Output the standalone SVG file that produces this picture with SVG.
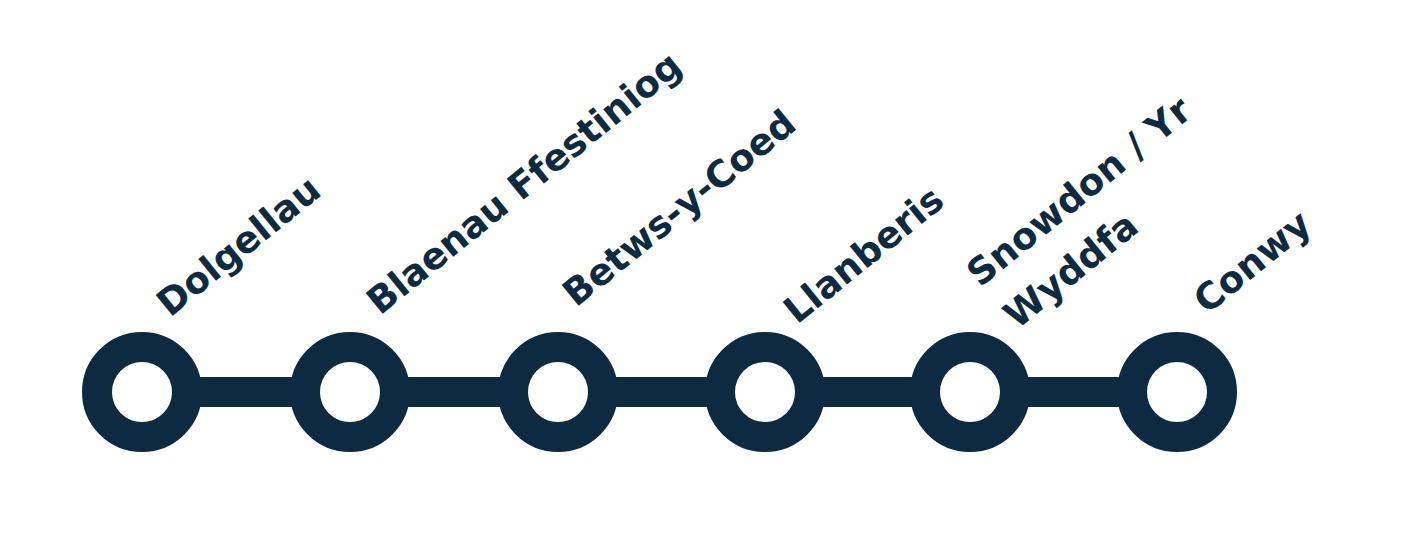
<svg xmlns="http://www.w3.org/2000/svg" width="1409" height="549" viewBox="0 0 1409 549">
<style>
.st{fill:#fff;stroke:#0e2a40;stroke-width:30}
.lb{font-family:"DejaVu Sans",sans-serif;font-weight:bold;font-size:37px;fill:#0e2a40}
</style>
<rect width="1409" height="549" fill="#fff"/>
<g id="connectors"><line x1="142" y1="392" x2="1177" y2="392" stroke="#0e2a40" stroke-width="30"/></g>
<g id="n1"><circle class="st" cx="142" cy="392" r="45"/><text class="lb" transform="translate(170,318) rotate(-39)">Dolgellau</text></g>
<g id="n2"><circle class="st" cx="350" cy="392" r="45"/><text class="lb" transform="translate(380,316) rotate(-39)">Blaenau Ffestiniog</text></g>
<g id="n3"><circle class="st" cx="558" cy="392" r="45"/><text class="lb" transform="translate(576,308) rotate(-39)">Betws-y-Coed</text></g>
<g id="n4"><circle class="st" cx="765" cy="392" r="45"/><text class="lb" transform="translate(797,325) rotate(-39)">Llanberis</text></g>
<g id="n5"><circle class="st" cx="970" cy="392" r="45"/><text class="lb" transform="translate(980,288) rotate(-39)">Snowdon / Yr</text><text class="lb" transform="translate(1017,330) rotate(-39)">Wyddfa</text></g>
<g id="n6"><circle class="st" cx="1177" cy="392" r="45"/><text class="lb" transform="translate(1207,315) rotate(-39)">Conwy</text></g>
</svg>
